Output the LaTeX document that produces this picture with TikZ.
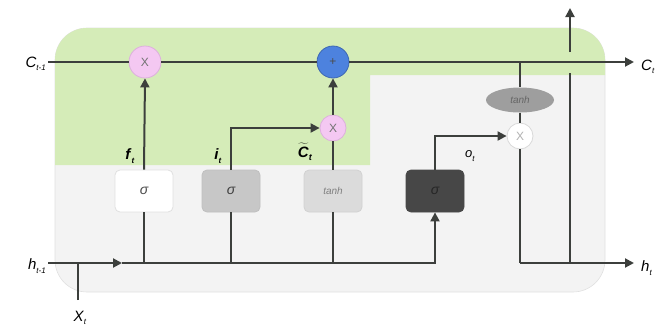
\documentclass[tikz,border=0pt]{standalone}
\usepackage{fontspec}
\setmainfont{Liberation Sans}
\usetikzlibrary{arrows.meta,shapes.geometric}
\definecolor{lgreen}{HTML}{D5ECB8}
\definecolor{lgray}{HTML}{F3F3F3}
\definecolor{wire}{HTML}{3C3F3C}
\definecolor{pinkf}{HTML}{F4C8F2}
\definecolor{pinkd}{HTML}{DDB0DD}
\definecolor{blueop}{HTML}{4D82DE}
\newcommand{\mylab}[2]{\textit{#1}\raisebox{-0.45ex}{\fontsize{8}{9}\selectfont\textit{#2}}}
\tikzset{
  wirestyle/.style={draw=wire,line width=2pt},
  arr/.style={wirestyle,-{Triangle[length=9pt,width=9pt]}},
  opcirc/.style={circle,minimum size=#1,inner sep=0pt,line width=0.8pt,font=\fontsize{12}{13}\selectfont},
  gatebox/.style={rectangle,rounded corners=5pt,minimum width=58pt,minimum height=42pt,inner sep=0pt,line width=0.8pt,font=\fontsize{14}{15}\selectfont\itshape},
  biglab/.style={font=\fontsize{15}{16}\selectfont,inner sep=1pt},
  gatelab/.style={font=\fontsize{15}{16}\selectfont\bfseries,inner sep=1pt}
}
\begin{document}
\begin{tikzpicture}[x=1pt,y=-1pt]
\useasboundingbox (0,0) rectangle (670,333);
% cell background
\fill[lgray,draw=black!12,line width=0.6pt,rounded corners=32pt] (55,28) rectangle (605,292);
\begin{scope}
\clip[rounded corners=32pt] (55,28) rectangle (605,292);
\fill[lgreen] (55,28) -- (605,28) -- (605,75) -- (370,75) -- (370,165) -- (55,165) -- cycle;
\end{scope}
% nodes
\node[opcirc=32pt,fill=pinkf,draw=pinkd,text=black!55] (fx) at (145,62) {X};
\node[opcirc=32pt,fill=blueop,draw=blueop!80!black,text=black!70] (plus) at (333,62) {+};
\node[opcirc=26pt,fill=pinkf,draw=pinkd,text=black!55] (ix) at (333,128) {X};
\node[opcirc=26pt,fill=white,draw=black!15,text=black!30] (ox) at (520,136) {X};
\node[ellipse,minimum width=68pt,minimum height=25pt,inner sep=0pt,fill=black!38,font=\fontsize{10}{11}\selectfont\itshape,text=black!60] (et) at (520,100) {tanh};
\node[gatebox,fill=white,draw=black!12,text=black!70] (s1) at (144,191) {σ};
\node[gatebox,fill=black!22,draw=black!25,text=black!75] (s2) at (231,191) {σ};
\node[gatebox,fill=black!14,draw=black!18,text=black!50,font=\fontsize{10}{11}\selectfont\itshape] (tb) at (333,191) {tanh};
\node[gatebox,fill=black!72,draw=black!72,text=black!85] (s4) at (435,191) {σ};
% coordinates
\coordinate (cin) at (48,62);
\coordinate (cout) at (634,62);
\coordinate (hin) at (48,263);
\coordinate (hmid) at (122,263);
\coordinate (hturn) at (435,263);
\coordinate (hout) at (634,263);
\coordinate (xin) at (78,300);
\coordinate (xj) at (78,263);
\coordinate (ct) at (520,62);
\coordinate (hj) at (520,263);
\coordinate (vup) at (570,263);
\coordinate (vgap1) at (570,73);
\coordinate (vgap2) at (570,52);
\coordinate (vtop) at (570,8);
% labels
\node[biglab,anchor=east] at (47,64) {\mylab{C}{t-1}};
\node[biglab,anchor=west] at (640,67) {\mylab{C}{t}};
\node[biglab,anchor=east] at (47,266) {\mylab{h}{t-1}};
\node[biglab,anchor=west] at (640,268) {\mylab{h}{t}};
\node[biglab] at (80,318) {\mylab{X}{t}};
\node[gatelab] at (130,156) {\mylab{f}{t}};
\node[gatelab] at (218,156) {\mylab{i}{t}};
\node[gatelab] at (305,152) {$\widetilde{\mbox{\textbf{\textit{C}}}}$\raisebox{-0.45ex}{\fontsize{9}{10}\selectfont\textbf{\textit{t}}}};
\node[gatelab,font=\fontsize{13}{14}\selectfont] at (470,156) {\mylab{o}{t}};
% cell state line
\draw[wirestyle] (cin) -- (fx);
\draw[wirestyle] (fx) -- (plus);
\draw[arr] (plus) -- (cout);
% hidden input line
\draw[arr] (hin) -- (hmid);
\draw[arr] (hmid) -- (hturn) -- (s4.south);
\draw[wirestyle] (xin) -- (xj);
\draw[wirestyle] (s1.south) -- (s1.south |- hin);
\draw[wirestyle] (s2.south) -- (s2.south |- hin);
\draw[wirestyle] (tb.south) -- (tb.south |- hin);
% gates up
\draw[arr] (s1.north) -- (fx.south);
\draw[arr] (s2.north) |- (ix.west);
\draw[wirestyle] (tb.north) -- (ix.south);
\draw[arr] (ix.north) -- (plus.south);
\draw[arr] (s4.north) |- (ox.west);
% output
\draw[wirestyle] (ct) -- (et.north);
\draw[wirestyle] (et.south) -- (ox.north);
\draw[wirestyle] (ox.south) -- (hj);
\draw[arr] (hj) -- (hout);
\draw[wirestyle] (vup) -- (vgap1);
\draw[arr] (vgap2) -- (vtop);
\end{tikzpicture}
\end{document}
